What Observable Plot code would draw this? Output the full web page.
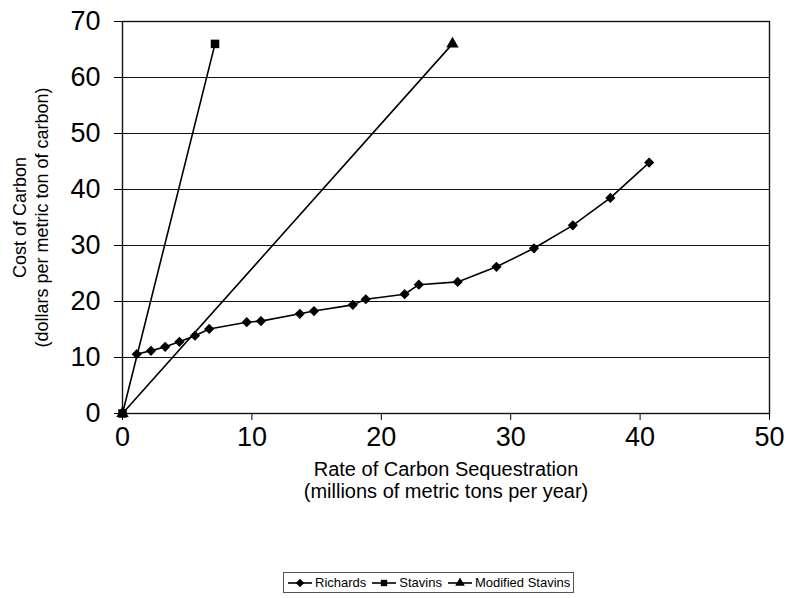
<!DOCTYPE html>
<html>
<head>
<meta charset="utf-8">
<script src="https://cdn.jsdelivr.net/npm/d3@7"></script>
<script src="https://cdn.jsdelivr.net/npm/@observablehq/plot@0.6"></script>
<style>
  html, body { margin: 0; padding: 0; background: #fff; }
  body { font-family: "Liberation Sans", Arial, sans-serif; }
  #wrap { position: relative; width: 790px; height: 598px; }
  #legend {
    position: absolute; left: 283px; top: 572px; height: 19px;
    border: 1px solid #555; display: flex; align-items: center;
    padding: 0 3px; font-size: 13px; color: #000; white-space: nowrap;
  }
  #legend .item { display: flex; align-items: center; margin-right: 5px; }
  #legend .item:last-child { margin-right: 0; }
  #legend svg { margin-right: 2px; }
</style>
</head>
<body>
<div id="wrap"><div id="chart"></div><div id="legend"></div></div>
<script>
// Data
const richardsX = [1.1, 2.2, 3.3, 4.4, 5.6, 6.7, 9.6, 10.7, 13.7, 14.8, 17.8, 18.8, 21.8, 22.9, 25.9, 28.9, 31.8, 34.8, 37.7, 40.7];
const richardsY = [10.6, 11.2, 11.9, 12.8, 13.9, 15.1, 16.3, 16.5, 17.8, 18.3, 19.4, 20.4, 21.3, 23.0, 23.5, 26.2, 29.5, 33.6, 38.5, 44.8];
const stavinsX = [0, 7.15];
const stavinsY = [0, 66];
const modStavinsX = [0, 25.5];
const modStavinsY = [0, 66];
const xTicks = [0, 10, 20, 30, 40, 50];
const yTicks = [0, 10, 20, 30, 40, 50, 60, 70];
const seriesNames = ["Richards", "Stavins", "Modified Stavins"];
const seriesSymbols = ["diamond2", "square", "triangle"];
const xTitle = ["Rate of Carbon Sequestration", "(millions of metric tons per year)"];
const yTitle = ["Cost of Carbon", "(dollars per metric ton of carbon)"];

const richards = richardsX.map((x, i) => ({x, y: richardsY[i]}));
const stavins = stavinsX.map((x, i) => ({x, y: stavinsY[i]}));
const modStavins = modStavinsX.map((x, i) => ({x, y: modStavinsY[i]}));

const font = "Liberation Sans, Arial, sans-serif";

const chart = Plot.plot({
  width: 790,
  height: 560,
  marginLeft: 122,
  marginRight: 21,
  marginTop: 21,
  marginBottom: 147,
  style: {fontFamily: font, fontSize: "27px", color: "#000", background: "#fff"},
  x: {domain: [0, 50], ticks: xTicks, tickSize: 7, tickPadding: 6, label: null},
  y: {domain: [0, 70], ticks: yTicks, tickSize: 8, tickPadding: 14, label: null},
  marks: [
    Plot.ruleY(yTicks, {stroke: "#111", strokeWidth: 1.2}),
    Plot.frame({stroke: "#111", strokeWidth: 1.4}),
    Plot.line(stavins, {x: "x", y: "y", stroke: "#000", strokeWidth: 1.6}),
    Plot.line(modStavins, {x: "x", y: "y", stroke: "#000", strokeWidth: 1.6}),
    Plot.line(richards, {x: "x", y: "y", stroke: "#000", strokeWidth: 1.6}),
    Plot.dot(richards, {x: "x", y: "y", symbol: seriesSymbols[0], r: 4.6, fill: "#000", stroke: "none"}),
    Plot.dot(modStavins, {x: "x", y: "y", symbol: seriesSymbols[2], r: 4.6, fill: "#000", stroke: "none"}),
    Plot.dot(stavins, {x: "x", y: "y", symbol: seriesSymbols[1], r: 4.8, fill: "#000", stroke: "none"}),
    Plot.text([xTitle[0]], {frameAnchor: "bottom", dy: 62, fontSize: 20, fill: "#000"}),
    Plot.text([xTitle[1]], {frameAnchor: "bottom", dy: 84, fontSize: 20, fill: "#000"}),
    Plot.text([yTitle[0]], {frameAnchor: "left", dx: -102, rotate: -90, textAnchor: "middle", fontSize: 18, fill: "#000"}),
    Plot.text([yTitle[1]], {frameAnchor: "left", dx: -80, rotate: -90, textAnchor: "middle", fontSize: 18, fill: "#000"})
  ]
});
document.getElementById("chart").appendChild(chart);

// Legend
const legend = d3.select("#legend");
seriesNames.forEach((name, i) => {
  const item = legend.append("div").attr("class", "item");
  const svg = item.append("svg").attr("width", 26).attr("height", 12);
  svg.append("line").attr("x1", 1).attr("x2", 25).attr("y1", 6).attr("y2", 6)
    .attr("stroke", "#000").attr("stroke-width", 1.6);
  const sym = {diamond2: d3.symbolDiamond2, square: d3.symbolSquare, triangle: d3.symbolTriangle}[seriesSymbols[i]];
  svg.append("path").attr("transform", "translate(13,6)")
    .attr("d", d3.symbol(sym, i === 0 ? 45 : 40)()).attr("fill", "#000");
  item.append("span").text(name);
});
</script>
</body>
</html>
